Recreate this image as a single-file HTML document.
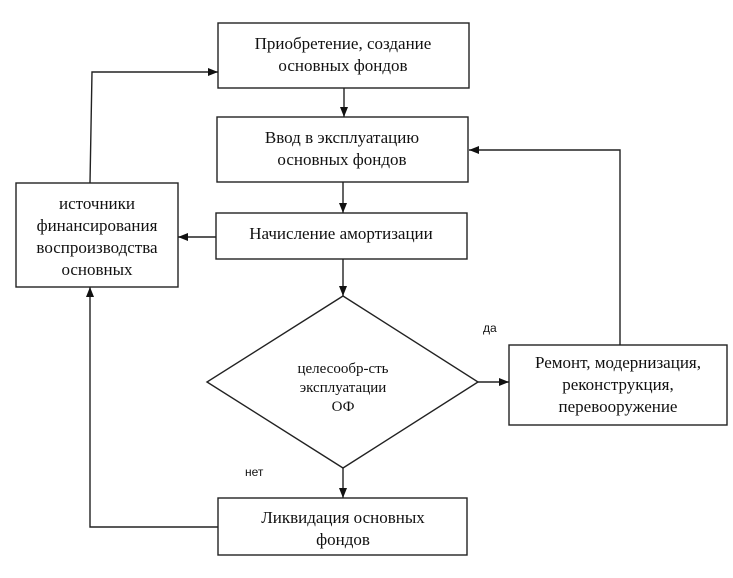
<!DOCTYPE html>
<html><head><meta charset="utf-8"><style>
body{margin:0;background:#fff;}
svg{display:block}
.t{font-family:"Liberation Serif",serif;font-size:17px;fill:#111;text-anchor:middle}
.s{font-family:"Liberation Sans",sans-serif;font-size:12px;fill:#111}
</style></head><body>
<svg width="733" height="578" viewBox="0 0 733 578">
<defs><marker id="a" markerWidth="10" markerHeight="8" refX="10" refY="4" orient="auto" markerUnits="userSpaceOnUse"><path d="M0,0 L10,4 L0,8 z" fill="#111"/></marker></defs>
<g fill="none" stroke="#222" stroke-width="1.4">
<rect x="218" y="23" width="251" height="65"/>
<rect x="217" y="117" width="251" height="65"/>
<rect x="216" y="213" width="251" height="46"/>
<rect x="16" y="183" width="162" height="104"/>
<rect x="509" y="345" width="218" height="80"/>
<rect x="218" y="498" width="249" height="57"/>
<polygon points="343,296 478,382 343,468 207,382"/>
<line x1="344" y1="88" x2="344" y2="117" marker-end="url(#a)"/>
<line x1="343" y1="182" x2="343" y2="213" marker-end="url(#a)"/>
<line x1="343" y1="259" x2="343" y2="296" marker-end="url(#a)"/>
<line x1="343" y1="468" x2="343" y2="498" marker-end="url(#a)"/>
<line x1="216" y1="237" x2="178" y2="237" marker-end="url(#a)"/>
<line x1="478" y1="382" x2="509" y2="382" marker-end="url(#a)"/>
<polyline points="620,345 620,150 469,150" marker-end="url(#a)"/>
<polyline points="90,183 92,72 218,72" marker-end="url(#a)"/>
<polyline points="218,527 90,527 90,287" marker-end="url(#a)"/>
</g>
<text class="t" x="343" y="49">Приобретение, создание</text>
<text class="t" x="343" y="71">основных фондов</text>
<text class="t" x="342" y="143">Ввод в эксплуатацию</text>
<text class="t" x="342" y="165">основных фондов</text>
<text class="t" x="341" y="239">Начисление амортизации</text>
<text class="t" x="97" y="209">источники</text>
<text class="t" x="97" y="231">финансирования</text>
<text class="t" x="97" y="253">воспроизводства</text>
<text class="t" x="97" y="275">основных</text>
<text class="t" x="343" y="373" style="font-size:15px">целесообр-сть</text>
<text class="t" x="343" y="392" style="font-size:15px">эксплуатации</text>
<text class="t" x="343" y="411" style="font-size:15px">ОФ</text>
<text class="t" x="618" y="368">Ремонт, модернизация,</text>
<text class="t" x="618" y="390">реконструкция,</text>
<text class="t" x="618" y="412">перевооружение</text>
<text class="t" x="343" y="523">Ликвидация основных</text>
<text class="t" x="343" y="545">фондов</text>
<text class="s" x="483" y="332">да</text>
<text class="s" x="245" y="476">нет</text>
</svg>
</body></html>
